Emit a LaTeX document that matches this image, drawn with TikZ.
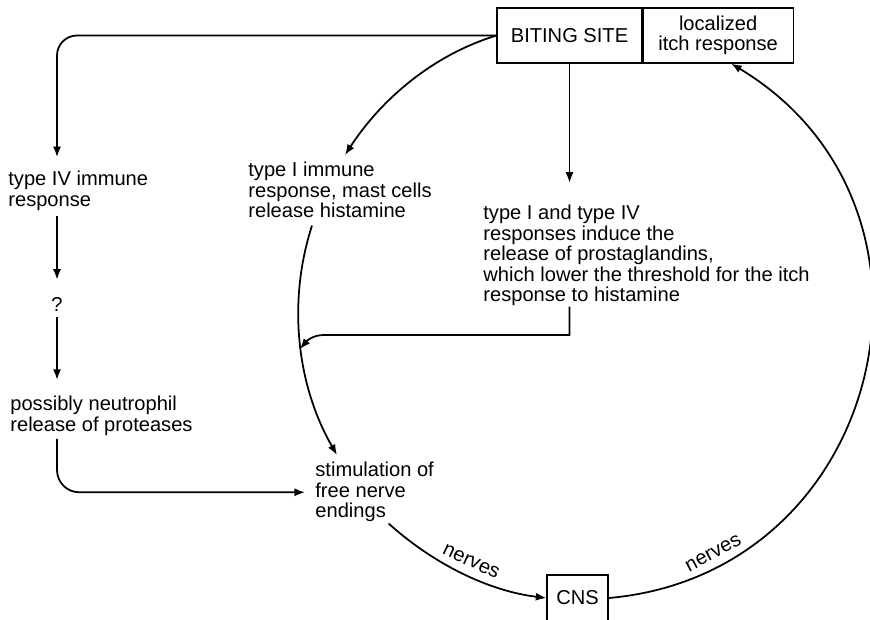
\documentclass[tikz,border=0pt]{standalone}
\usepackage{fontspec}
\setmainfont{Liberation Sans}
\usepackage{tikz}
\usetikzlibrary{arrows.meta,positioning,calc}
\newcommand{\itchfont}{\fontsize{10.3}{10.5}\selectfont}
\tikzset{
  sitebox/.style={
    rectangle,
    draw=black,
    line width=0.6pt,
    minimum height=0.99cm,
    align=center,
    inner sep=2pt,
    font=\itchfont
  },
  txt/.style={
    inner sep=0pt,
    align=left,
    font=\itchfont
  },
  nervelab/.style={sloped, above, inner sep=4pt, font=\itchfont},
  flow/.style={-{Latex[length=1.9mm,width=1.45mm]}, line width=0.9pt}
}

\begin{document}
\begin{tikzpicture}[x=0.018cm, y=-0.018cm]
\useasboundingbox (0,0) rectangle (870,619);
% boxes
\node[sitebox, minimum width=2.61cm] (site) at (569.5,35.5) {BITING SITE};
\node[sitebox, minimum width=2.7cm, right=0pt of site] (itch) {localized\\itch response};
\node[sitebox, minimum width=1.1cm, minimum height=0.83cm] (cns) at (577.5,598) {CNS};
% text blocks
\node[txt, anchor=north west] (t4) at (8,171) {type IV immune\\response};
\node[txt, anchor=north] (q) at (57,297) {?};
\node[txt, anchor=north west] (neutro) at (10,396) {possibly neutrophil\\release of proteases};
\node[txt, anchor=north west] (type1) at (248,162) {type I immune\\response, mast cells\\release histamine};
\node[txt, anchor=north west] (prost) at (483,205) {type I and type IV\\responses induce the\\release of prostaglandins,\\which lower the threshold for the itch\\response to histamine};
\node[txt, anchor=north west] (stim) at (315,462) {stimulation of\\free nerve\\endings};
\coordinate (bend) at (324,335);
\coordinate (hit) at (300,349);

% type IV branch on the left
\draw[flow, rounded corners=0.36cm, shorten >=0.25cm] (site.west) -| (q |- t4.north);
\draw[flow, shorten <=0.09cm, shorten >=0.31cm] (q |- t4.south) -- (q.north);
\draw[flow, shorten <=0.09cm, shorten >=0.29cm] (q.south) -- (q |- neutro.north);
\draw[flow, rounded corners=0.4cm, shorten <=0.05cm, shorten >=0.18cm] (q |- neutro.south) |- (stim.west);

% prostaglandins
\draw[flow, shorten >=0.4cm] (site.south) -- (site.south |- prost.north);
\draw[flow] (site.south |- prost.south) |- (bend) to[out=180,in=50] (hit);

% the loop round the circle
\draw[flow] (site.west) to[out=197,in=57,looseness=0.88] ($(type1.north)+(5,-7)$);
\draw[flow] ($(type1.south)+(-28,7)$) to[out=252,in=120,looseness=0.89] ($(stim.north west)+(22,-7)$);
\draw[flow] ($(stim.south)+(14,1)$) to[out=318,in=173,looseness=0.87] node[nervelab, pos=0.52] {nerves} (cns.west);
\draw[flow] (cns.east) to[out=5,in=-31,looseness=1.3] node[nervelab, pos=0.15] {nerves} ($(itch.south)+(13,0)$);
\end{tikzpicture}
\end{document}
